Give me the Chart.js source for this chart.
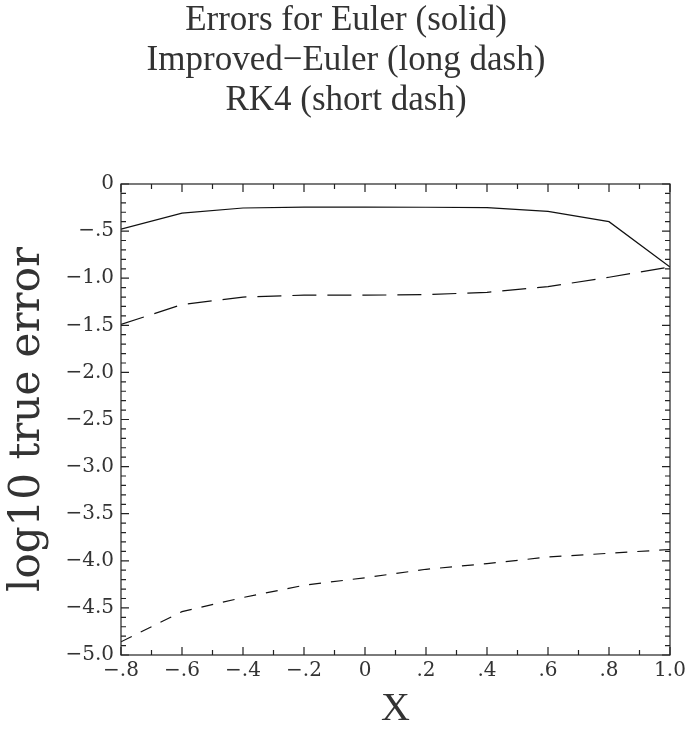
<!DOCTYPE html>
<html>
<head>
<meta charset="utf-8">
<script src="https://cdn.jsdelivr.net/npm/chart.js@4/dist/chart.umd.min.js"></script>
<style>
  html, body { margin: 0; padding: 0; background: #fff; }
  canvas { display: block; }
</style>
</head>
<body>
<canvas id="err-chart" width="692" height="729"></canvas>
<script>
// x grid where the three methods were compared
var xValues = [-0.8, -0.6, -0.4, -0.2, 0.0, 0.2, 0.4, 0.6, 0.8, 1.0];
// log10 of the true error for each method
var eulerErr = [-0.48, -0.31, -0.255, -0.245, -0.245, -0.247, -0.25, -0.29, -0.40, -0.88];
var improvedErr = [-1.49, -1.28, -1.20, -1.18, -1.18, -1.175, -1.15, -1.09, -0.99, -0.88];
var rk4Err = [-4.86, -4.54, -4.39, -4.26, -4.18, -4.09, -4.03, -3.96, -3.92, -3.88];

var titleLines = ["Errors for Euler (solid)", "Improved\u2212Euler (long dash)", "RK4 (short dash)"];
var xLabel = "X";
var yLabel = "log10 true error";

function points(ys) {
  return xValues.map(function (x, i) { return { x: x, y: ys[i] }; });
}

// ".5", "-1.0", "0" style tick text
function tickText(v) {
  var r = Math.round(v * 10) / 10;
  if (r === 0) return "0";
  var s = Math.abs(r).toFixed(1);
  if (Math.abs(r) < 1) s = s.substring(1);
  return (r < 0 ? "\u2212" : "") + s;
}

// box around the plot plus inward major/minor ticks on all four sides
var frameTicksPlugin = {
  id: "frameTicks",
  afterDraw: function (chart) {
    var ctx = chart.ctx;
    var a = chart.chartArea;
    var xs = chart.scales.x;
    var ys = chart.scales.y;
    ctx.save();
    ctx.strokeStyle = "#222";
    ctx.lineWidth = 1.2;
    ctx.strokeRect(a.left, a.top, a.right - a.left, a.bottom - a.top);
    ctx.beginPath();
    var i, v, px, len;
    for (i = 0; i <= 18; i++) {
      v = -0.8 + i * 0.1;
      px = xs.getPixelForValue(v);
      len = i % 2 === 0 ? 8 : 5;
      ctx.moveTo(px, a.bottom); ctx.lineTo(px, a.bottom - len);
      ctx.moveTo(px, a.top); ctx.lineTo(px, a.top + len);
    }
    for (i = 0; i <= 50; i++) {
      v = -5 + i * 0.1;
      px = ys.getPixelForValue(v);
      len = i % 5 === 0 ? 8 : 5;
      ctx.moveTo(a.left, px); ctx.lineTo(a.left + len, px);
      ctx.moveTo(a.right, px); ctx.lineTo(a.right - len, px);
    }
    ctx.stroke();
    ctx.restore();
  }
};

var lineStyle = { borderColor: "#111", borderWidth: 1.2, pointRadius: 0, tension: 0, fill: false };
var tickFont = { family: "'DejaVu Serif', serif", size: 20 };

new Chart(document.getElementById("err-chart"), {
  type: "line",
  data: {
    datasets: [
      Object.assign({ label: "Euler", data: points(eulerErr) }, lineStyle),
      Object.assign({ label: "Improved-Euler", data: points(improvedErr), borderDash: [24, 11] }, lineStyle),
      Object.assign({ label: "RK4", data: points(rk4Err), borderDash: [12, 10] }, lineStyle)
    ]
  },
  options: {
    responsive: false,
    animation: false,
    layout: { padding: 0 },
    plugins: {
      legend: { display: false },
      tooltip: { enabled: false },
      title: {
        display: true,
        text: titleLines,
        color: "#333",
        font: { family: "'Liberation Serif', serif", size: 35, weight: "normal", lineHeight: 40 / 35 },
        padding: { top: 1, bottom: 63 }
      }
    },
    scales: {
      x: {
        type: "linear",
        min: -0.8,
        max: 1.0,
        grid: { display: false, drawTicks: false },
        border: { display: false },
        ticks: {
          stepSize: 0.2,
          padding: 4,
          color: "#333",
          font: tickFont,
          maxRotation: 0,
          callback: function (v) { return tickText(v); }
        },
        title: {
          display: true,
          text: xLabel,
          color: "#333",
          font: { family: "'Liberation Serif', serif", size: 40, lineHeight: 1 },
          padding: { top: 0, bottom: 0 }
        },
        afterFit: function (s) { s.height = 74; }
      },
      y: {
        min: -5,
        max: 0,
        grid: { display: false, drawTicks: false },
        border: { display: false },
        ticks: {
          stepSize: 0.5,
          padding: 7,
          color: "#333",
          font: tickFont,
          callback: function (v) { return tickText(v); }
        },
        title: {
          display: true,
          text: yLabel,
          color: "#333",
          font: { family: "'DejaVu Serif', serif", size: 42, lineHeight: 1 },
          padding: { top: 7, bottom: 0 }
        },
        afterFit: function (s) { s.width = 121; }
      },
      // empty right-hand axis that only reserves the margin beside the plot
      yRight: {
        position: "right",
        min: -5,
        max: 0,
        grid: { display: false, drawTicks: false },
        border: { display: false },
        ticks: { display: false },
        afterFit: function (s) { s.width = 22; }
      }
    }
  },
  plugins: [frameTicksPlugin]
});
</script>
</body>
</html>
